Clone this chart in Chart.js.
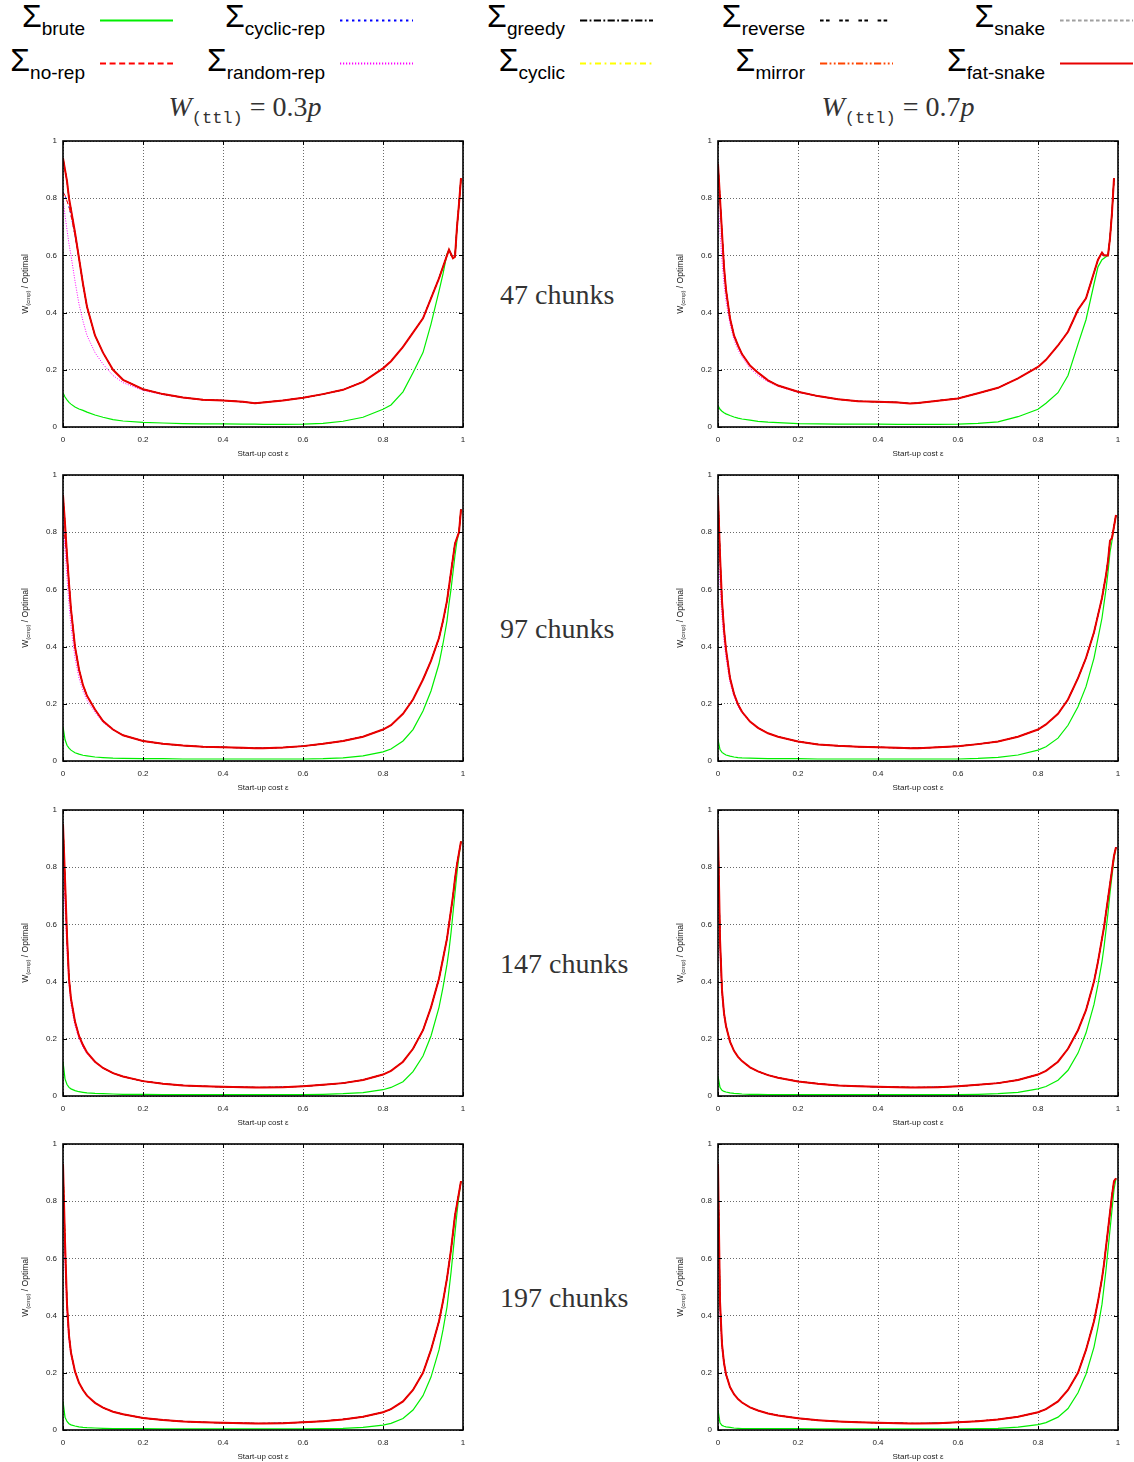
<!DOCTYPE html>
<html><head><meta charset="utf-8">
<script src="https://cdn.jsdelivr.net/npm/chart.js@4.4.0/dist/chart.umd.min.js"></script>
<style>
html,body{margin:0;padding:0;background:#fff;}
#page{position:relative;width:1134px;height:1462px;overflow:hidden;font-family:"Liberation Sans",Arial,sans-serif;}
.leg{position:absolute;white-space:nowrap;font-size:32px;line-height:32px;color:#000;}
.leg .s{font-size:19px;position:relative;top:8px;}
.title{position:absolute;width:300px;text-align:center;white-space:nowrap;font-family:"Liberation Serif",serif;font-size:28px;line-height:28px;color:#333;}
.title .tt{font-family:"Liberation Mono",monospace;font-size:17px;position:relative;top:7px;}
.chunks{position:absolute;left:500px;font-family:"Liberation Serif",serif;font-size:28px;line-height:28px;color:#333;white-space:nowrap;}
.ytitle{position:absolute;width:120px;text-align:center;font-size:8.5px;line-height:10px;color:#222;transform:rotate(-90deg);white-space:nowrap;}
.ytitle sub{font-size:6px;vertical-align:-2px;line-height:0}
canvas{position:absolute;}
svg{position:absolute;left:0;top:0;}
</style></head>
<body><div id="page"><svg id="legsvg" width="1134" height="90"></svg></div>
<script>
// ---------------- data ----------------
const eps = [0,0.005,0.01,0.015,0.02,0.03,0.04,0.05,0.06,0.08,0.1,0.125,0.15,0.2,0.25,0.3,0.35,0.4,0.45,0.48,0.5,0.55,0.6,0.65,0.7,0.75,0.8,0.82,0.85,0.875,0.9,0.92,0.94,0.95,0.96,0.965,0.97,0.975,0.98,0.985,0.99,0.995];
const xTicks = [0,0.2,0.4,0.6,0.8,1];
const yTicks = [0,0.2,0.4,0.6,0.8,1];
const chunkLabels = ['47 chunks','97 chunks','147 chunks','197 chunks'];
const ttlFractions = ['0.3','0.7'];
const seriesNames = ['brute','no-rep','cyclic-rep','random-rep','greedy','cyclic','reverse','mirror','snake','fat-snake'];

// 47 chunks, W(ttl)=0.3p
const fatSnake47a = [0.94,0.90,0.86,0.80,0.76,0.68,0.59,0.50,0.42,0.32,0.26,0.20,0.165,0.132,0.115,0.103,0.095,0.093,0.088,0.083,0.086,0.093,0.102,0.115,0.13,0.158,0.205,0.23,0.28,0.33,0.38,0.45,0.52,0.56,0.60,0.62,0.605,0.59,0.595,0.70,0.78,0.87];
const noRep47a    = [0.82,0.81,0.79,0.77,0.74,0.67,0.59,0.50,0.42,0.32,0.26,0.20,0.165,0.132,0.115,0.103,0.095,0.093,0.088,0.083,0.086,0.093,0.102,0.115,0.13,0.158,0.205,0.23,0.28,0.33,0.38,0.45,0.52,0.56,0.60,0.62,0.605,0.59,0.595,0.70,0.78,0.87];
const randomRep47a= [0.80,0.74,0.69,0.64,0.60,0.51,0.43,0.37,0.32,0.26,0.22,0.18,0.155,0.128,0.113,0.102,0.095,0.093,0.088,0.083,0.086,0.093,0.102,0.115,0.13,0.158,0.205,0.23,0.28,0.33,0.38,0.45,0.52,0.56,0.60,0.62,0.605,0.59,0.595,0.70,0.78,0.87];
const brute47a    = [0.12,0.105,0.095,0.086,0.08,0.07,0.063,0.058,0.052,0.042,0.034,0.026,0.021,0.016,0.014,0.012,0.011,0.011,0.010,0.010,0.009,0.009,0.010,0.013,0.02,0.034,0.062,0.077,0.123,0.19,0.26,0.36,0.475,0.535,0.605,0.62,0.605,0.59,0.595,0.70,0.78,0.87];
// 47 chunks, W(ttl)=0.7p
const fatSnake47b = [0.92,0.80,0.68,0.56,0.48,0.38,0.32,0.285,0.255,0.215,0.19,0.163,0.145,0.123,0.108,0.097,0.09,0.088,0.086,0.082,0.084,0.092,0.10,0.118,0.137,0.17,0.21,0.235,0.285,0.333,0.41,0.45,0.54,0.585,0.61,0.60,0.60,0.60,0.66,0.75,0.87,null];
const randomRep47b= [0.80,0.68,0.58,0.50,0.44,0.36,0.305,0.27,0.245,0.205,0.18,0.158,0.142,0.121,0.107,0.097,0.09,0.088,0.086,0.082,0.084,0.092,0.10,0.118,0.137,0.17,0.21,0.235,0.285,0.333,0.41,0.45,0.54,0.585,0.61,0.60,0.60,0.60,0.66,0.75,0.87,null];
const brute47b    = [0.075,0.062,0.055,0.05,0.046,0.04,0.035,0.031,0.028,0.024,0.02,0.017,0.015,0.012,0.011,0.01,0.01,0.01,0.009,0.009,0.009,0.009,0.01,0.013,0.018,0.036,0.062,0.083,0.12,0.18,0.29,0.375,0.5,0.56,0.585,0.59,0.595,0.60,0.66,0.75,0.87,null];
// 97 chunks, 0.3p
const fatSnake97a = [0.93,0.83,0.72,0.62,0.53,0.40,0.32,0.265,0.228,0.18,0.14,0.11,0.09,0.07,0.06,0.054,0.05,0.048,0.046,0.045,0.045,0.047,0.052,0.06,0.07,0.085,0.11,0.125,0.165,0.215,0.285,0.35,0.43,0.49,0.56,0.61,0.66,0.71,0.76,0.78,0.80,0.88];
const noRep97a    = [0.82,0.78,0.71,0.62,0.53,0.40,0.32,0.265,0.228,0.18,0.14,0.11,0.09,0.07,0.06,0.054,0.05,0.048,0.046,0.045,0.045,0.047,0.052,0.06,0.07,0.085,0.11,0.125,0.165,0.215,0.285,0.35,0.43,0.49,0.56,0.61,0.66,0.71,0.76,0.78,0.80,0.88];
const randomRep97a= [0.85,0.74,0.64,0.55,0.47,0.36,0.29,0.245,0.212,0.17,0.135,0.108,0.089,0.07,0.06,0.054,0.05,0.048,0.046,0.045,0.045,0.047,0.052,0.06,0.07,0.085,0.11,0.125,0.165,0.215,0.285,0.35,0.43,0.49,0.56,0.61,0.66,0.71,0.76,0.78,0.80,0.88];
const brute97a    = [0.12,0.075,0.055,0.045,0.038,0.029,0.024,0.02,0.018,0.014,0.012,0.01,0.009,0.008,0.008,0.007,0.007,0.007,0.007,0.007,0.007,0.007,0.007,0.008,0.011,0.018,0.032,0.042,0.07,0.11,0.175,0.245,0.34,0.41,0.49,0.55,0.6,0.66,0.72,0.77,0.80,0.88];
// 97 chunks, 0.7p
const fatSnake97b = [0.93,0.72,0.56,0.46,0.39,0.29,0.235,0.198,0.172,0.138,0.116,0.097,0.085,0.068,0.058,0.053,0.05,0.048,0.046,0.045,0.045,0.048,0.052,0.059,0.068,0.085,0.11,0.128,0.165,0.215,0.29,0.36,0.45,0.51,0.57,0.61,0.65,0.70,0.77,0.78,0.82,0.86];
const randomRep97b= [0.75,0.62,0.50,0.42,0.36,0.275,0.225,0.19,0.168,0.136,0.115,0.097,0.085,0.068,0.058,0.053,0.05,0.048,0.046,0.045,0.045,0.048,0.052,0.059,0.068,0.085,0.11,0.128,0.165,0.215,0.29,0.36,0.45,0.51,0.57,0.61,0.65,0.70,0.77,0.78,0.82,0.86];
const brute97b    = [0.075,0.04,0.03,0.025,0.021,0.017,0.014,0.012,0.011,0.01,0.009,0.008,0.008,0.008,0.007,0.007,0.007,0.007,0.007,0.007,0.007,0.007,0.007,0.009,0.013,0.021,0.038,0.05,0.08,0.125,0.19,0.26,0.36,0.43,0.5,0.55,0.6,0.66,0.73,0.77,0.82,0.86];
// 147 chunks, 0.3p
const fatSnake147a = [0.95,0.76,0.56,0.41,0.34,0.26,0.21,0.178,0.152,0.12,0.098,0.08,0.068,0.052,0.043,0.037,0.034,0.032,0.031,0.03,0.03,0.031,0.034,0.039,0.045,0.056,0.075,0.088,0.12,0.165,0.23,0.31,0.41,0.48,0.55,0.6,0.65,0.7,0.76,0.81,0.85,0.89];
const noRep147a    = [0.85,0.72,0.55,0.41,0.34,0.26,0.21,0.178,0.152,0.12,0.098,0.08,0.068,0.052,0.043,0.037,0.034,0.032,0.031,0.03,0.03,0.031,0.034,0.039,0.045,0.056,0.075,0.088,0.12,0.165,0.23,0.31,0.41,0.48,0.55,0.6,0.65,0.7,0.76,0.81,0.85,0.89];
const randomRep147a= [0.85,0.66,0.50,0.39,0.32,0.245,0.2,0.17,0.147,0.117,0.097,0.08,0.068,0.052,0.043,0.037,0.034,0.032,0.031,0.03,0.03,0.031,0.034,0.039,0.045,0.056,0.075,0.088,0.12,0.165,0.23,0.31,0.41,0.48,0.55,0.6,0.65,0.7,0.76,0.81,0.85,0.89];
const brute147a    = [0.12,0.06,0.04,0.03,0.025,0.019,0.015,0.013,0.011,0.009,0.008,0.007,0.006,0.006,0.005,0.005,0.005,0.005,0.005,0.005,0.005,0.005,0.005,0.006,0.008,0.012,0.022,0.03,0.05,0.085,0.14,0.21,0.31,0.38,0.46,0.51,0.57,0.64,0.71,0.78,0.84,0.89];
// 147 chunks, 0.7p
const fatSnake147b = [0.93,0.55,0.37,0.29,0.245,0.19,0.158,0.137,0.122,0.1,0.086,0.073,0.064,0.051,0.043,0.037,0.034,0.032,0.031,0.03,0.03,0.031,0.034,0.039,0.045,0.056,0.075,0.088,0.12,0.165,0.23,0.30,0.40,0.47,0.55,0.59,0.64,0.69,0.74,0.79,0.84,0.87];
const randomRep147b= [0.80,0.50,0.35,0.28,0.24,0.188,0.158,0.137,0.122,0.1,0.086,0.073,0.064,0.051,0.043,0.037,0.034,0.032,0.031,0.03,0.03,0.031,0.034,0.039,0.045,0.056,0.075,0.088,0.12,0.165,0.23,0.30,0.40,0.47,0.55,0.59,0.64,0.69,0.74,0.79,0.84,0.87];
const brute147b    = [0.07,0.03,0.02,0.016,0.014,0.011,0.009,0.008,0.007,0.006,0.006,0.005,0.005,0.005,0.005,0.005,0.005,0.005,0.005,0.005,0.005,0.005,0.005,0.006,0.008,0.013,0.025,0.033,0.055,0.09,0.15,0.22,0.32,0.39,0.47,0.52,0.58,0.64,0.71,0.77,0.83,0.87];
// 197 chunks, 0.3p
const fatSnake197a = [0.93,0.66,0.44,0.33,0.27,0.205,0.165,0.14,0.12,0.095,0.078,0.064,0.055,0.042,0.035,0.03,0.027,0.025,0.024,0.023,0.023,0.024,0.027,0.031,0.037,0.046,0.062,0.073,0.1,0.14,0.2,0.28,0.38,0.45,0.53,0.58,0.63,0.69,0.75,0.79,0.83,0.87];
const noRep197a    = [0.85,0.63,0.44,0.33,0.27,0.205,0.165,0.14,0.12,0.095,0.078,0.064,0.055,0.042,0.035,0.03,0.027,0.025,0.024,0.023,0.023,0.024,0.027,0.031,0.037,0.046,0.062,0.073,0.1,0.14,0.2,0.28,0.38,0.45,0.53,0.58,0.63,0.69,0.75,0.79,0.83,0.87];
const randomRep197a= [0.85,0.58,0.40,0.31,0.26,0.2,0.165,0.14,0.12,0.095,0.078,0.064,0.055,0.042,0.035,0.03,0.027,0.025,0.024,0.023,0.023,0.024,0.027,0.031,0.037,0.046,0.062,0.073,0.1,0.14,0.2,0.28,0.38,0.45,0.53,0.58,0.63,0.69,0.75,0.79,0.83,0.87];
const brute197a    = [0.1,0.045,0.03,0.022,0.018,0.014,0.011,0.009,0.008,0.007,0.006,0.005,0.005,0.005,0.004,0.004,0.004,0.004,0.004,0.004,0.004,0.004,0.004,0.005,0.006,0.009,0.017,0.023,0.04,0.07,0.12,0.185,0.28,0.35,0.43,0.49,0.55,0.62,0.69,0.76,0.82,0.87];
// 197 chunks, 0.7p
const fatSnake197b = [0.93,0.45,0.3,0.235,0.195,0.15,0.125,0.108,0.096,0.079,0.068,0.058,0.051,0.041,0.034,0.03,0.027,0.025,0.024,0.023,0.023,0.024,0.027,0.031,0.037,0.046,0.062,0.073,0.1,0.14,0.2,0.28,0.38,0.45,0.53,0.58,0.64,0.7,0.76,0.82,0.87,0.88];
const randomRep197b= [0.75,0.40,0.28,0.225,0.19,0.15,0.125,0.108,0.096,0.079,0.068,0.058,0.051,0.041,0.034,0.03,0.027,0.025,0.024,0.023,0.023,0.024,0.027,0.031,0.037,0.046,0.062,0.073,0.1,0.14,0.2,0.28,0.38,0.45,0.53,0.58,0.64,0.7,0.76,0.82,0.87,0.88];
const brute197b    = [0.07,0.025,0.016,0.013,0.011,0.009,0.007,0.006,0.005,0.005,0.005,0.005,0.005,0.005,0.004,0.004,0.004,0.004,0.004,0.004,0.004,0.004,0.004,0.005,0.006,0.01,0.019,0.026,0.045,0.075,0.13,0.195,0.29,0.36,0.44,0.5,0.56,0.63,0.7,0.77,0.84,0.88];

// ---------------- styles ----------------
const styles = {
  'brute':      {color:'#00ee00', width:1.2, dash:[]},
  'no-rep':     {color:'#ff0000', width:1, dash:[5,3]},
  'cyclic-rep': {color:'#0000ff', width:1, dash:[2,3]},
  'random-rep': {color:'#ff00ff', width:1, dash:[1,1.5]},
  'greedy':     {color:'#000000', width:1, dash:[6,2,1.5,2]},
  'cyclic':     {color:'#ffff00', width:1, dash:[5,3,1.5,3]},
  'reverse':    {color:'#000000', width:1, dash:[3,2,3,8]},
  'mirror':     {color:'#ff4500', width:1, dash:[6,2,1.5,2,1.5,2]},
  'snake':      {color:'#a0a0a0', width:1, dash:[3,2]},
  'fat-snake':  {color:'#e80000', width:2, dash:[]}
};

const page = document.getElementById('page');
const svg = document.getElementById('legsvg');

// ---------------- legend ----------------
seriesNames.forEach((name, i) => {
  const col = Math.floor(i / 2), row = i % 2;
  const end = 85 + 240 * col;
  const d = document.createElement('div');
  d.className = 'leg';
  d.style.right = (1134 - end) + 'px';
  d.style.top = (row ? 44 : 0) + 'px';
  d.innerHTML = 'Σ<span class="s">' + name + '</span>';
  page.appendChild(d);
  const st = styles[name];
  const ln = document.createElementNS('http://www.w3.org/2000/svg', 'line');
  const y = row ? 63.5 : 20.5;
  ln.setAttribute('x1', end + 15); ln.setAttribute('x2', end + 88);
  ln.setAttribute('y1', y); ln.setAttribute('y2', y);
  ln.setAttribute('stroke', st.color);
  ln.setAttribute('stroke-width', st.width === 1 ? 1.8 : 2.2);
  if (st.dash.length) ln.setAttribute('stroke-dasharray', st.dash.map(v => v * 1.2).join(' '));
  svg.appendChild(ln);
});

// ---------------- column titles ----------------
ttlFractions.forEach((f, c) => {
  const t = document.createElement('div');
  t.className = 'title';
  t.style.left = (c ? 748 : 95) + 'px';
  t.style.top = '93px';
  t.innerHTML = '<i>W</i><span class="tt">(ttl)</span> = ' + f + '<i>p</i>';
  page.appendChild(t);
});

// ---------------- charts ----------------
const chartSets = [
  [{fs:fatSnake47a, nr:noRep47a, rr:randomRep47a, br:brute47a}, {fs:fatSnake47b, nr:fatSnake47b, rr:randomRep47b, br:brute47b}],
  [{fs:fatSnake97a, nr:noRep97a, rr:randomRep97a, br:brute97a}, {fs:fatSnake97b, nr:fatSnake97b, rr:randomRep97b, br:brute97b}],
  [{fs:fatSnake147a, nr:noRep147a, rr:randomRep147a, br:brute147a}, {fs:fatSnake147b, nr:fatSnake147b, rr:randomRep147b, br:brute147b}],
  [{fs:fatSnake197a, nr:noRep197a, rr:randomRep197a, br:brute197a}, {fs:fatSnake197b, nr:fatSnake197b, rr:randomRep197b, br:brute197b}]
];
const drawOrder = ['fat-snake','no-rep','cyclic-rep','greedy','cyclic','reverse','mirror','snake','random-rep','brute'];
const seriesSource = {'fat-snake':'fs','no-rep':'nr','cyclic-rep':'nr','greedy':'fs','cyclic':'fs','reverse':'fs','mirror':'fs','snake':'fs','random-rep':'rr','brute':'br'};

const framePlugin = {
  id: 'frame',
  afterDatasetsDraw(chart) {
    const {ctx, chartArea: a, scales: {x, y}} = chart;
    ctx.save();
    ctx.strokeStyle = '#000';
    ctx.lineWidth = 1;
    ctx.beginPath();
    x.ticks.forEach(t => {
      const px = Math.round(x.getPixelForValue(t.value)) + 0.5;
      ctx.moveTo(px, a.bottom); ctx.lineTo(px, a.bottom - 4);
      ctx.moveTo(px, a.top); ctx.lineTo(px, a.top + 4);
    });
    y.ticks.forEach(t => {
      const py = Math.round(y.getPixelForValue(t.value)) + 0.5;
      ctx.moveTo(a.left, py); ctx.lineTo(a.left + 4, py);
      ctx.moveTo(a.right, py); ctx.lineTo(a.right - 4, py);
    });
    ctx.stroke();
    ctx.lineWidth = 1.6;
    ctx.strokeRect(a.left, a.top, a.right - a.left, a.bottom - a.top);
    ctx.restore();
  }
};

const tickFont = {family: '"Liberation Sans", Arial, sans-serif', size: 8};
const tickLabel = v => String(Math.round(v * 10) / 10);

chartSets.forEach((rowSets, r) => {
  const top = 131 + Math.round(334.3 * r);
  const cl = document.createElement('div');
  cl.className = 'chunks';
  cl.style.top = (top + 150) + 'px';
  cl.textContent = chunkLabels[r];
  page.appendChild(cl);

  rowSets.forEach((set, c) => {
    const left = c ? 655 : 0;
    const cv = document.createElement('canvas');
    cv.width = 470; cv.height = 335;
    cv.style.left = left + 'px'; cv.style.top = top + 'px';
    cv.style.width = '470px'; cv.style.height = '335px';
    page.appendChild(cv);

    const yt = document.createElement('div');
    yt.className = 'ytitle';
    yt.style.left = (left + 25 - 60) + 'px';
    yt.style.top = (top + 153 - 5) + 'px';
    yt.innerHTML = 'W<sub>(cmp)</sub> / Optimal';
    page.appendChild(yt);

    const datasets = drawOrder.map(name => {
      const st = styles[name];
      const arr = set[seriesSource[name]];
      return {
        label: name,
        data: eps.map((e, i) => ({x: e, y: arr[i]})),
        borderColor: st.color,
        borderWidth: st.width,
        borderDash: st.dash,
        pointRadius: 0,
        fill: false,
        tension: 0
      };
    });

    new Chart(cv, {
      type: 'line',
      data: {datasets},
      options: {
        responsive: false,
        animation: false,
        devicePixelRatio: 1,
        layout: {padding: {top: 10, right: 7, left: 0, bottom: 0}},
        plugins: {legend: {display: false}, tooltip: {enabled: false}},
        scales: {
          x: {
            type: 'linear', min: 0, max: 1,
            afterFit: s => { s.height = 39; s.paddingLeft = 0; s.paddingRight = 0; },
            afterBuildTicks: s => { s.ticks = xTicks.map(v => ({value: v})); },
            ticks: {font: tickFont, color: '#222', padding: 8, maxRotation: 0, callback: tickLabel},
            grid: {color: '#6a6a6a', lineWidth: 1, drawTicks: false},
            border: {display: false, dash: [1, 2]},
            title: {display: true, text: 'Start-up cost ε', font: tickFont, color: '#222', padding: {top: 0, bottom: 7}}
          },
          y: {
            type: 'linear', min: 0, max: 1,
            afterFit: s => { s.width = 63; s.paddingTop = 0; s.paddingBottom = 0; },
            afterBuildTicks: s => { s.ticks = yTicks.map(v => ({value: v})); },
            ticks: {font: tickFont, color: '#222', padding: 6, callback: tickLabel},
            grid: {color: '#6a6a6a', lineWidth: 1, drawTicks: false},
            border: {display: false, dash: [1, 2]}
          }
        }
      },
      plugins: [framePlugin]
    });
  });
});
</script>
</body></html>
